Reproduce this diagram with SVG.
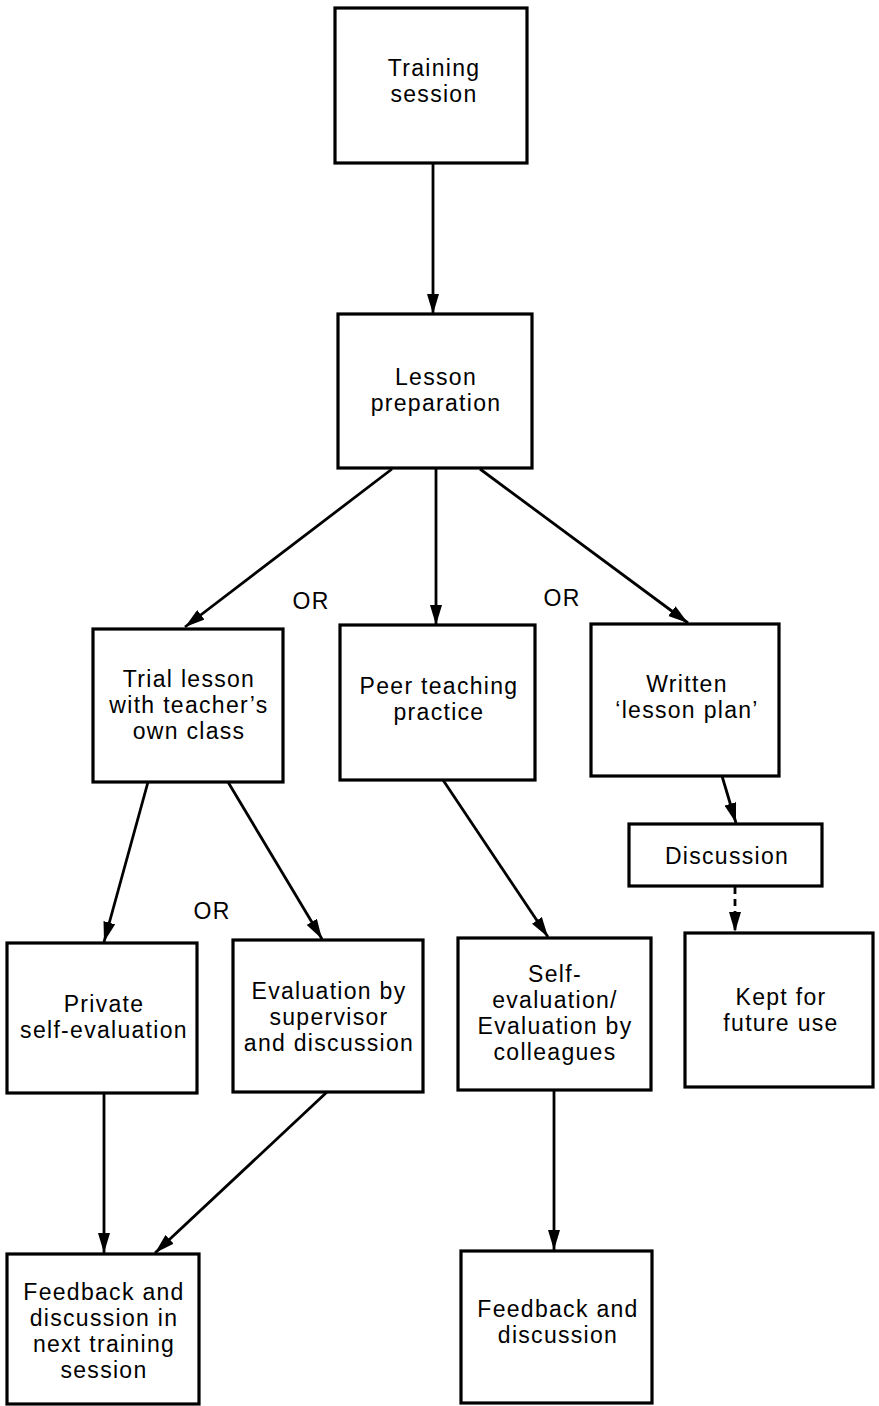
<svg xmlns="http://www.w3.org/2000/svg" width="879" height="1406" viewBox="0 0 879 1406">
<defs>
<style>
.box{fill:#fff;stroke:#000;stroke-width:3.2}
.t{font-family:"Liberation Sans",Arial,Helvetica,sans-serif;font-size:23px;letter-spacing:1.3px;text-anchor:middle;fill:#000}
.c{stroke:#000;stroke-width:2.8;fill:none;marker-end:url(#ah)}
.d{stroke-dasharray:7 5}
</style>
<marker id="ah" markerUnits="userSpaceOnUse" markerWidth="22" markerHeight="12" refX="20" refY="6" orient="auto">
<path d="M0,0 L20,6 L0,12 Z" fill="#000"/>
</marker>
</defs>
<rect width="879" height="1406" fill="#fff"/>
<g id="connectors">
<line class="c" x1="433" y1="163" x2="433" y2="314"/>
<line class="c" x1="392" y1="469" x2="185" y2="627"/>
<line class="c" x1="436" y1="468" x2="436" y2="625"/>
<line class="c" x1="480" y1="469" x2="688" y2="623"/>
<line class="c" x1="148" y1="782" x2="104" y2="942"/>
<line class="c" x1="228" y1="782" x2="322" y2="939"/>
<line class="c" x1="443" y1="780" x2="548" y2="937"/>
<line class="c" x1="722" y1="776" x2="736" y2="823"/>
<line class="c d" x1="735" y1="887" x2="735" y2="932"/>
<line class="c" x1="104" y1="1093" x2="104" y2="1253"/>
<line class="c" x1="327" y1="1092" x2="155" y2="1253"/>
<line class="c" x1="554" y1="1090" x2="554" y2="1250"/>
</g>
<g id="training"><rect class="box" x="335" y="8" width="192" height="155"/><text class="t" x="434" y="76">Training</text><text class="t" x="434" y="102">session</text></g>
<g id="lesson"><rect class="box" x="338" y="314" width="194" height="154"/><text class="t" x="436" y="385">Lesson</text><text class="t" x="436" y="411">preparation</text></g>
<g id="trial"><rect class="box" x="93" y="629" width="190" height="153"/><text class="t" x="189" y="687">Trial lesson</text><text class="t" x="189" y="713">with teacher’s</text><text class="t" x="189" y="739">own class</text></g>
<g id="peer"><rect class="box" x="340" y="625" width="195" height="155"/><text class="t" x="439" y="694">Peer teaching</text><text class="t" x="439" y="720">practice</text></g>
<g id="written"><rect class="box" x="591" y="624" width="188" height="152"/><text class="t" x="687" y="692">Written</text><text class="t" x="687" y="718">‘lesson plan’</text></g>
<g id="discussion"><rect class="box" x="629" y="824" width="193" height="62"/><text class="t" x="727" y="864">Discussion</text></g>
<g id="private"><rect class="box" x="7" y="943" width="190" height="150"/><text class="t" x="104" y="1012">Private</text><text class="t" x="104" y="1038">self-evaluation</text></g>
<g id="supervisor"><rect class="box" x="233" y="940" width="190" height="152"/><text class="t" x="329" y="999">Evaluation by</text><text class="t" x="329" y="1025">supervisor</text><text class="t" x="329" y="1051">and discussion</text></g>
<g id="selfeval"><rect class="box" x="458" y="938" width="193" height="152"/><text class="t" x="555" y="982">Self-</text><text class="t" x="555" y="1008">evaluation/</text><text class="t" x="555" y="1034">Evaluation by</text><text class="t" x="555" y="1060">colleagues</text></g>
<g id="kept"><rect class="box" x="685" y="933" width="188" height="154"/><text class="t" x="781" y="1005">Kept for</text><text class="t" x="781" y="1031">future use</text></g>
<g id="feedback1"><rect class="box" x="7" y="1254" width="192" height="150"/><text class="t" x="104" y="1300">Feedback and</text><text class="t" x="104" y="1326">discussion in</text><text class="t" x="104" y="1352">next training</text><text class="t" x="104" y="1378">session</text></g>
<g id="feedback2"><rect class="box" x="461" y="1251" width="191" height="152"/><text class="t" x="558" y="1317">Feedback and</text><text class="t" x="558" y="1343">discussion</text></g>
<g id="labels"><text class="t" x="311" y="609">OR</text><text class="t" x="562" y="606">OR</text><text class="t" x="212" y="919">OR</text></g>
</svg>
